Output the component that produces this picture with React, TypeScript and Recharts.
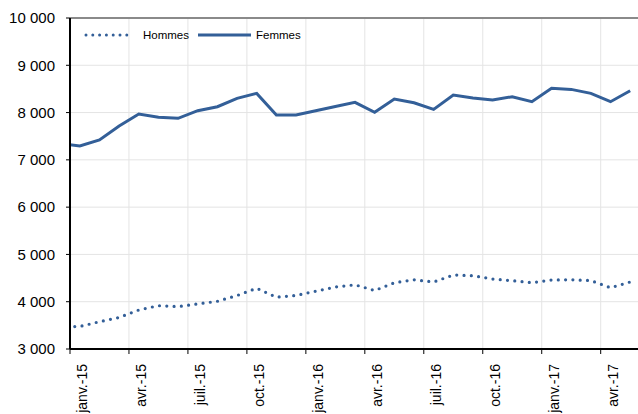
import React from 'react'
import {
  CartesianGrid,
  Line,
  LineChart,
  ReferenceLine,
  XAxis,
  YAxis,
} from 'recharts'

// déc.-14 is drawn outside the plot and clipped, as in the source
const months = [
  'déc.-14',
  'janv.-15', 'févr.-15', 'mars-15', 'avr.-15', 'mai-15', 'juin-15',
  'juil.-15', 'août-15', 'sept.-15', 'oct.-15', 'nov.-15', 'déc.-15',
  'janv.-16', 'févr.-16', 'mars-16', 'avr.-16', 'mai-16', 'juin-16',
  'juil.-16', 'août-16', 'sept.-16', 'oct.-16', 'nov.-16', 'déc.-16',
  'janv.-17', 'févr.-17', 'mars-17', 'avr.-17', 'mai-17',
]

const hommes = [
  3470,
  3476, 3577, 3666, 3825, 3916, 3897,
  3954, 4009, 4131, 4284, 4095, 4133,
  4222, 4311, 4358, 4237, 4400, 4463,
  4417, 4565, 4550, 4480, 4444, 4402,
  4459, 4465, 4446, 4296, 4417,
]

const femmes = [
  7340,
  7295, 7420, 7716, 7969, 7899, 7878,
  8040, 8124, 8300, 8406, 7948, 7948,
  8040, 8130, 8216, 8005, 8287, 8208,
  8068, 8371, 8308, 8266, 8336, 8230,
  8512, 8490, 8406, 8230, 8462,
]

const quarterLabels = [
  'janv.-15', 'avr.-15', 'juil.-15', 'oct.-15', 'janv.-16',
  'avr.-16', 'juil.-16', 'oct.-16', 'janv.-17', 'avr.-17',
]

const yTicks = [3000, 4000, 5000, 6000, 7000, 8000, 9000, 10000]

const data = months.map((m, k) => ({
  i: k - 1,
  month: m,
  hommes: hommes[k],
  femmes: femmes[k],
}))

// ticks sit on the boundary before each quarter's first month
const xTicks = quarterLabels.map((l) => months.indexOf(l) - 1 - 0.5)

const BLUE = '#335f98'
const FONT = '"Liberation Sans", Arial, sans-serif'

const fmt = (v: number) => {
  const s = String(v)
  return s.length > 3 ? s.slice(0, -3) + ' ' + s.slice(-3) : s
}

const XTick = (props: any) => {
  const { x, y, payload } = props
  const label = months[payload.value + 0.5 + 1]
  const tx = x + 17
  const ty = y + 8
  return (
    <text
      x={tx}
      y={ty}
      transform={`rotate(-90, ${tx}, ${ty})`}
      textAnchor="end"
      fontSize={14}
      fontFamily={FONT}
      fill="#000"
    >
      {label}
    </text>
  )
}

const LegendBox = () => (
  <svg width={320} height={20} style={{ position: 'absolute', left: 0, top: 26 }}>
    <line x1={86} y1={9} x2={133} y2={9} stroke={BLUE} strokeWidth={3}
      strokeDasharray="0 6.8" strokeLinecap="round" />
    <text x={143} y={13} fontSize={11.5} fontFamily={FONT} fill="#000">Hommes</text>
    <line x1={198} y1={9} x2={251} y2={9} stroke={BLUE} strokeWidth={3} />
    <text x={256} y={13} fontSize={11.5} fontFamily={FONT} fill="#000">Femmes</text>
  </svg>
)

export default function App() {
  return (
    <div style={{ position: 'absolute', left: 0, top: 0, width: 638, height: 414, overflow: 'hidden', background: '#fff' }}>
      <LineChart
        width={640}
        height={414}
        data={data}
        margin={{ top: 18, right: 0, left: 0, bottom: 0 }}
      >
        <CartesianGrid stroke="#e4e4e4" strokeWidth={1} />
        <XAxis
          type="number"
          dataKey="i"
          domain={[-0.5, 28.5]}
          allowDataOverflow
          ticks={xTicks}
          interval={0}
          height={65}
          tickSize={5}
          axisLine={{ stroke: '#000', strokeWidth: 2 }}
          tickLine={{ stroke: '#000', strokeWidth: 1 }}
          tick={<XTick />}
        />
        <YAxis
          type="number"
          domain={[3000, 10000]}
          ticks={yTicks}
          interval={0}
          width={70}
          tickSize={4}
          tickMargin={11}
          tickFormatter={fmt}
          axisLine={{ stroke: '#000', strokeWidth: 2 }}
          tickLine={{ stroke: '#000', strokeWidth: 1 }}
          tick={{ fill: '#000', fontSize: 15, fontFamily: FONT }}
        />
        <ReferenceLine y={10000} stroke="#8a8a8a" strokeWidth={2} />
        <Line
          type="linear"
          dataKey="hommes"
          stroke={BLUE}
          strokeWidth={3.2}
          strokeDasharray="0 7.3"
          strokeLinecap="round"
          dot={false}
          activeDot={false}
          isAnimationActive={false}
        />
        <Line
          type="linear"
          dataKey="femmes"
          stroke={BLUE}
          strokeWidth={3}
          dot={false}
          activeDot={false}
          isAnimationActive={false}
        />
      </LineChart>
      <LegendBox />
    </div>
  )
}
